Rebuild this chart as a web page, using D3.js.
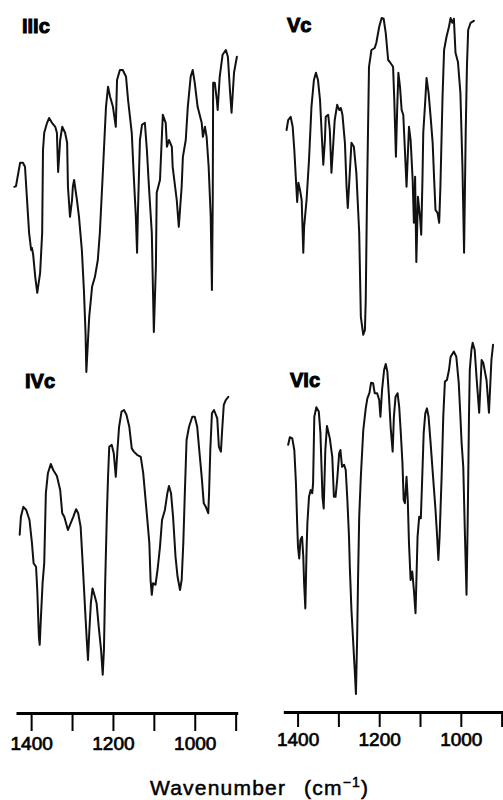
<!DOCTYPE html>
<html>
<head>
<meta charset="utf-8">
<script src="https://cdn.jsdelivr.net/npm/d3@7/dist/d3.min.js"></script>
<style>
  body { margin: 0; background: #fff; }
  svg { display: block; }
</style>
</head>
<body>
<div id="chart"></div>
<script>
// IR spectra, [wavenumber (cm-1), relative transmittance]
var spectrumIIIc = [
  [1441,48.3],[1437,48.5],[1427,54.3],[1420,54.3],[1415,53.3],[1410,45],[1405,36.8],[1400,32.5],
  [1398,33],[1395,31.3],[1390,25.8],[1385,21.8],[1383,23.3],[1378,26.8],[1373,36.8],[1371,57.5],
  [1368,61.8],[1361,64.3],[1356,65.5],[1349,64.3],[1341,63.3],[1337,61.8],[1334,52],[1329,60],
  [1324,63.3],[1317,61.8],[1312,59.3],[1310,48.3],[1305,40.8],[1300,45],[1298,48.3],[1295,50],
  [1288,45],[1283,40.8],[1276,32.5],[1271,22.5],[1267,11.8],[1265,2],[1258,15.8],[1251,23.3],
  [1244,25.8],[1237,30],[1232,36.8],[1224,53.3],[1217,68.3],[1212,73.3],[1207,70.8],[1200,68.3],
  [1193,63.3],[1190,75],[1183,77.5],[1176,77.5],[1168,75.8],[1163,70],[1154,61.8],[1149,50.8],
  [1144,40.8],[1141,31.8],[1139,41.8],[1134,60],[1129,63.8],[1122,64.3],[1117,57.5],[1112,48.3],
  [1105,36.8],[1102,21.8],[1100,12],[1095,28.3],[1093,46.8],[1085,50],[1080,61.8],[1078,66.3],
  [1071,64.3],[1068,58.3],[1063,60],[1056,58.3],[1054,53.3],[1044,45],[1039,38.3],[1032,48.3],
  [1029,55.8],[1022,60],[1017,68.3],[1010,75.8],[1005,77.5],[1000,74.3],[993,68.3],[983,64.3],
  [980,60.8],[975,63.3],[971,60.8],[966,53.3],[961,40.8],[958,22.5],[956,45],[955,74.3],
  [951,74.3],[946,70],[944,67.5],[939,75.8],[932,81.3],[924,82.5],[919,80.8],[914,72.5],
  [910,66.8],[904,76.8],[897,80.8]
];

var spectrumVc = [
  [1427,62.5],[1423,65],[1417,65.8],[1412,63.3],[1408,57.5],[1404,50],[1401,44.5],[1398,49.3],
  [1394,47.5],[1390,45],[1386,31.8],[1384,38.3],[1378,45],[1372,55],[1366,68.3],[1360,75],
  [1355,76.8],[1350,75],[1345,70],[1341,61.8],[1337,53.8],[1333,60],[1331,65.8],[1325,66.3],
  [1321,62.5],[1317,51.8],[1313,58.3],[1309,65],[1303,68.8],[1298,67.5],[1294,68],[1290,66.3],
  [1284,59.3],[1280,48.3],[1277,43],[1274,48.3],[1268,59.3],[1262,58.3],[1256,51.8],[1249,36.8],
  [1245,15.8],[1239,11.3],[1235,12.5],[1233,20],[1230,45],[1225,78.3],[1219,82.5],[1211,83],
  [1207,84.3],[1200,88.3],[1194,90.5],[1189,90.3],[1184,86.8],[1178,80],[1174,79.5],[1166,78.3],
  [1163,70],[1159,55.8],[1156,67.5],[1153,76.8],[1149,73.3],[1145,67.5],[1141,66.3],[1137,57.5],
  [1133,48.3],[1127,63.3],[1123,60],[1118,50],[1115,39.3],[1112,50.8],[1109,29.5],[1105,45.8],
  [1100,40.8],[1097,36.3],[1094,50],[1092,61.8],[1087,70],[1084,75.5],[1079,71.8],[1074,65.8],
  [1069,59.3],[1065,49.3],[1062,42.5],[1057,41.8],[1053,39.3],[1050,48.3],[1045,70],[1041,82.5],
  [1035,85.8],[1029,88.3],[1025,90.5],[1021,89.3],[1017,90.3],[1013,81.8],[1007,79.5],[1001,71.8],
  [996,53.3],[992,31.8],[988,61.8],[985,78.3],[982,87.5],[976,89.3],[968,89.8]
];

var spectrumIVc = [
  [1428,41.3],[1425,45.8],[1419,48.3],[1412,47.5],[1404,45],[1398,39.2],[1394,34.2],[1388,33.3],
  [1385,27.5],[1381,15.8],[1379,13.8],[1376,20.8],[1372,29.2],[1368,34.2],[1364,51.7],[1359,56.7],
  [1352,59],[1346,57.5],[1337,56],[1329,52.5],[1324,46.7],[1319,45.8],[1310,42.5],[1305,43.8],
  [1297,45.8],[1290,47.7],[1285,46.7],[1279,43.3],[1274,34.2],[1268,22.5],[1264,15],[1261,10],
  [1258,16.7],[1254,24.2],[1250,27.9],[1244,25.8],[1240,24.2],[1234,17.5],[1229,12.5],[1225,6.3],
  [1222,12.5],[1219,29.2],[1215,45.8],[1212,55.8],[1209,63.3],[1203,63.8],[1198,61.7],[1193,55.8],
  [1189,62.5],[1185,68.3],[1179,72.1],[1173,72.5],[1167,71.3],[1160,68.3],[1154,62.9],[1149,62.1],
  [1141,61.3],[1132,60.8],[1126,56.7],[1118,47.5],[1111,39.2],[1108,30],[1105,26.3],[1102,29.2],
  [1096,28.8],[1091,32.5],[1085,38.3],[1080,45],[1073,47.5],[1067,51.7],[1063,53.5],[1058,51.7],
  [1053,45.8],[1047,35.8],[1042,30.8],[1036,27.5],[1032,30],[1028,39.2],[1024,52.5],[1020,65],
  [1014,68.3],[1006,70.8],[1000,70.8],[994,68.3],[989,62.5],[983,55.8],[978,49.2],[973,48.3],
  [967,46.7],[965,51.7],[962,62.5],[958,71.7],[953,72.5],[945,70.4],[941,63.3],[936,62.1],
  [933,67.5],[929,73.8],[924,75],[918,75.8]
];

var spectrumVIc = [
  [1423,63.8],[1419,65.7],[1413,65.4],[1408,62.5],[1404,54.2],[1401,44.2],[1399,38.3],[1396,35.4],
  [1393,40],[1389,40.8],[1386,35.8],[1384,29.2],[1381,22.9],[1378,37.5],[1376,44.2],[1372,50.8],
  [1368,52.5],[1364,51.7],[1362,54.2],[1359,70.8],[1354,73.2],[1348,72.1],[1344,66.7],[1339,50.8],
  [1336,47.9],[1332,62.5],[1328,68.5],[1321,65.4],[1315,60.8],[1311,50.8],[1307,50.8],[1303,55],
  [1298,61.7],[1295,62.5],[1291,58.3],[1286,58.8],[1282,57.5],[1278,50],[1274,40.8],[1272,33.3],
  [1268,22.5],[1264,15],[1260,7.5],[1257,1.5],[1254,15.8],[1252,29.2],[1249,45.8],[1245,55.8],
  [1239,67.5],[1233,72.9],[1229,75.4],[1224,76.7],[1220,79.3],[1215,79.2],[1211,76.7],[1205,76.7],
  [1200,75],[1197,70.8],[1193,77.5],[1188,82.5],[1184,84],[1180,82.1],[1176,75.8],[1172,68.3],
  [1167,62.1],[1164,70.8],[1160,75.8],[1155,76.7],[1151,73.3],[1147,66.7],[1143,59.2],[1140,50],
  [1137,49.2],[1133,55.8],[1130,50],[1127,39.2],[1123,30],[1119,32.1],[1115,27.5],[1111,21.7],
  [1109,29.2],[1106,40.8],[1102,45.8],[1098,45.4],[1095,54.2],[1091,66.7],[1087,71.7],[1083,72.9],
  [1079,70.8],[1074,64.2],[1068,55.8],[1062,47.5],[1058,40.8],[1055,35],[1052,40.8],[1047,55.8],
  [1043,70.8],[1039,79.6],[1034,80],[1029,82.5],[1025,85.8],[1017,87.1],[1011,85.8],[1005,79.2],
  [1001,70.8],[998,64.2],[994,58.3],[990,41.7],[986,26.3],[983,45.8],[980,70.8],[978,82.5],
  [974,87.5],[971,89.3],[966,87.5],[961,80],[955,71.8],[949,85],[945,84.3],[937,80],
  [931,71.8],[925,85],[921,88.8]
];

var tickValuesAll = [1400, 1300, 1200, 1100, 1000, 900];
var tickLabelsShown = [1400, 1200, 1000];
var panelNames = ["IIIc", "Vc", "IVc", "VIc"];

var svg = d3.select("#chart")
  .append("svg")
  .attr("width", 503)
  .attr("height", 800);

// scales: one x scale per column, one y scale per row
var xLeft = d3.scaleLinear().domain([1437, 895]).range([16, 237.7]);
var xRight = d3.scaleLinear().domain([1435, 890]).range([283.3, 505.7]);
var yTop = d3.scaleLinear().domain([0, 100]).range([380, -20]);
var yBottom = d3.scaleLinear().domain([0, 100]).range([700, 300]);

var panels = [
  { name: panelNames[0], data: spectrumIIIc, x: xLeft, y: yTop, lx: 22, ly: 33 },
  { name: panelNames[1], data: spectrumVc, x: xRight, y: yTop, lx: 287, ly: 31.5 },
  { name: panelNames[2], data: spectrumIVc, x: xLeft, y: yBottom, lx: 25, ly: 388 },
  { name: panelNames[3], data: spectrumVIc, x: xRight, y: yBottom, lx: 290, ly: 386.5 }
];

panels.forEach(function(p) {
  var line = d3.line()
    .x(d => p.x(d[0]))
    .y(d => p.y(d[1]));

  svg.append("path")
    .datum(p.data)
    .attr("d", line)
    .attr("fill", "none")
    .attr("stroke", "#111")
    .attr("stroke-width", 2)
    .attr("stroke-linejoin", "round")
    .attr("stroke-linecap", "round");

  svg.append("text")
    .attr("x", p.lx)
    .attr("y", p.ly)
    .attr("font-family", "'Liberation Sans', Arial, sans-serif")
    .attr("font-weight", "bold")
    .attr("font-size", 20)
    .attr("stroke", "#000")
    .attr("stroke-width", 1)
    .attr("fill", "#000")
    .text(p.name);
});

// bottom axes
function drawAxis(scale, yPos, tickLen) {
  var axis = d3.axisBottom(scale)
    .tickValues(tickValuesAll)
    .tickSizeInner(tickLen)
    .tickSizeOuter(0)
    .tickPadding(6)
    .tickFormat(d => tickLabelsShown.indexOf(d) >= 0 ? d : "");

  var g = svg.append("g")
    .attr("transform", `translate(0, ${yPos})`)
    .call(axis);

  g.select(".domain").attr("stroke", "#000").attr("stroke-width", 3);
  g.selectAll(".tick line").attr("stroke", "#000").attr("stroke-width", 2);
  g.selectAll(".tick text")
    .attr("font-family", "'Liberation Sans', Arial, sans-serif")
    .attr("font-size", 19)
    .attr("fill", "#000")
    .attr("stroke", "#000")
    .attr("stroke-width", 0.7);
}

drawAxis(xLeft, 713, 18);
drawAxis(xRight, 712, 15);

// axis title
var title = svg.append("text")
  .attr("x", 150)
  .attr("y", 795)
  .attr("font-family", "'Liberation Sans', Arial, sans-serif")
  .attr("font-size", 21)
  .attr("letter-spacing", 1.2)
  .attr("fill", "#000")
  .attr("stroke", "#000")
  .attr("stroke-width", 0.5);

title.append("tspan").text("Wavenumber");
title.append("tspan").attr("dx", 18).text("(cm");
title.append("tspan").attr("dy", -8).attr("font-size", 14).text("−1");
title.append("tspan").attr("dy", 8).text(")");
</script>
</body>
</html>
